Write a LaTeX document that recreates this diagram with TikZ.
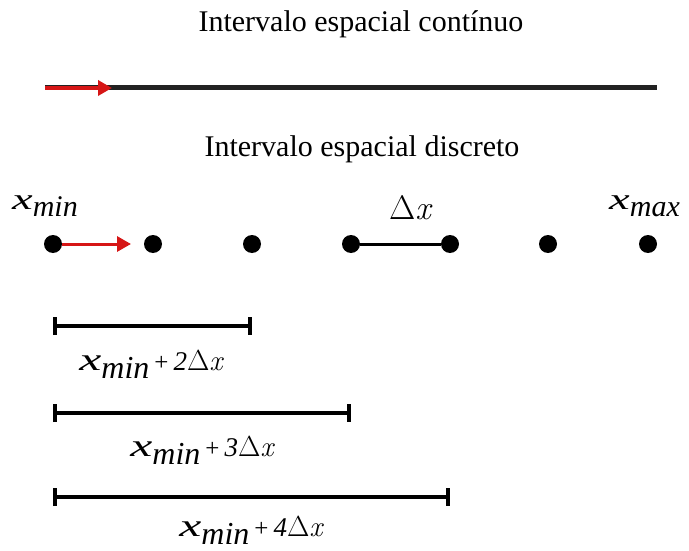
\documentclass[tikz,border=0pt]{standalone}
\usepackage{fontspec}
\setmainfont{Liberation Serif}[ItalicFont={Liberation Serif Italic}]
\newfontfamily\lmr{Latin Modern Roman}
\usetikzlibrary{arrows.meta}
\definecolor{myred}{RGB}{214,22,22}
\definecolor{lineblack}{RGB}{34,34,34}
% wide italic x followed by a lowered subscript
\newcommand{\xsub}[3]{{\fontsize{#1}{#1}\selectfont\itshape\scalebox{1.55}[1]{x}\raisebox{-#2}{#3}}}
\newcommand{\deltax}[1]{{\fontsize{#1}{#1}\selectfont\lmr Δ\itshape x}}
\newcommand{\plusn}[1]{\hspace{5pt}{\fontsize{25}{25}\selectfont +}\hspace{5pt}{\fontsize{27}{27}\selectfont\itshape #1}}
\begin{document}
\begin{tikzpicture}[x=1pt,y=-1pt,
  dot/.style={circle,fill=black,inner sep=0pt,minimum size=18pt},
  titletext/.style={font=\fontsize{30}{36}\selectfont,anchor=base,inner sep=0pt},
  redarrow/.style={draw=myred,line width=3.5pt,-{Triangle[length=14pt,width=15pt]}},
  intervalbar/.style={line width=3.8pt,{Bar[width=18pt]}-{Bar[width=18pt]}},
  lab/.style={anchor=base,inner sep=0pt}]
\useasboundingbox (0,0) rectangle (689,551);

% continuous interval
\node[titletext] (t1) at (361,32) {Intervalo espacial contínuo};
\coordinate (c0) at (45,88);
\coordinate (c1) at (657,88);
\coordinate (ctip) at (112,88);
\draw[lineblack,line width=5pt] (c0) -- (c1);
\draw[redarrow] (c0) -- (ctip);

% discrete interval
\node[titletext] (t2) at (362,157) {Intervalo espacial discreto};
\foreach \i/\x in {0/53,1/153,2/252,3/351,4/450,5/548,6/648}
  \node[dot] (d\i) at (\x,244) {};
\draw[line width=3pt] (d3) -- (d4);
\coordinate (dtip) at (131,244);
\draw[redarrow,line width=3pt] (d0) -- (dtip);

\node[lab,anchor=base west] (xmin) at (12,209) {\xsub{30}{7pt}{min}};
\node[lab,anchor=base west] (xmax) at (609,209) {\xsub{30}{7pt}{max}};
\node[lab] (dx) at (410,219) {\deltax{34}};

% bars
\coordinate (b1s) at (53,326);
\coordinate (b1e) at (252,326);
\coordinate (b2s) at (53,413);
\coordinate (b2e) at (351,413);
\coordinate (b3s) at (53,497);
\coordinate (b3e) at (450,497);
\draw[intervalbar] (b1s) -- (b1e);
\draw[intervalbar] (b2s) -- (b2e);
\draw[intervalbar] (b3s) -- (b3e);

\node[lab] (l1) at (151,370) {\xsub{32}{8pt}{min}\plusn{2}\deltax{29}};
\node[lab] (l2) at (202,456) {\xsub{32}{8pt}{min}\plusn{3}\deltax{29}};
\node[lab] (l3) at (251,536) {\xsub{32}{8pt}{min}\plusn{4}\deltax{29}};
\end{tikzpicture}
\end{document}
